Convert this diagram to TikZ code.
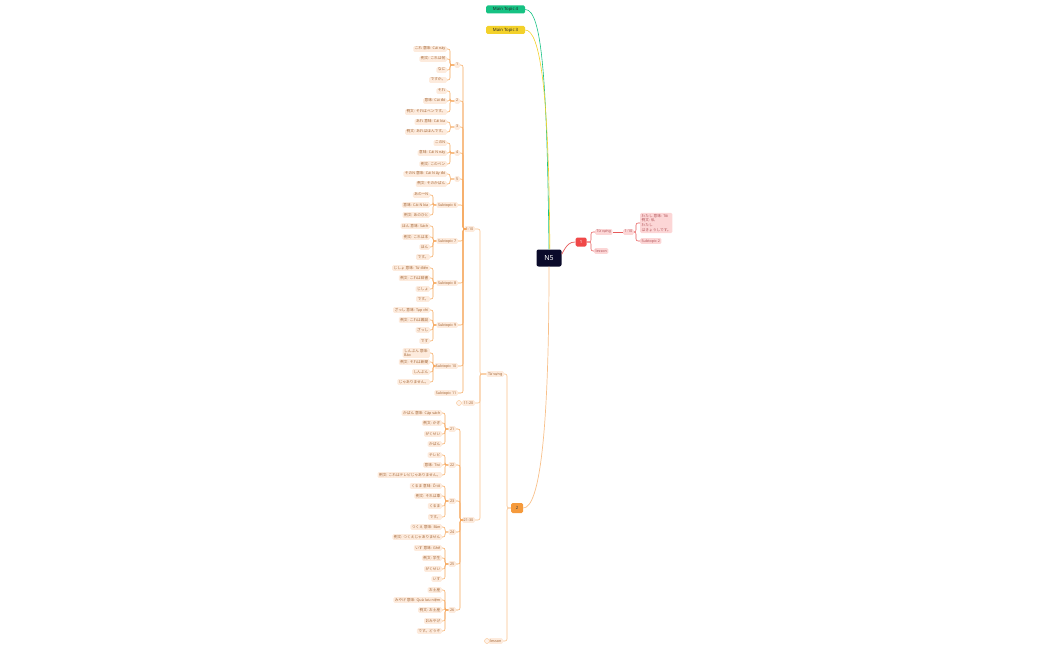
\documentclass[tikz,border=0pt]{standalone}
\usepackage{fontspec}
\setmainfont{Noto Sans}
\newfontfamily\jp{Noto Sans CJK JP}
\newcommand\J[1]{{\jp #1}}
\definecolor{peach}{HTML}{FDEBDD}
\definecolor{ptext}{HTML}{A5693A}
\definecolor{oline}{HTML}{F5A65B}
\definecolor{otrunk}{HTML}{F8C08A}
\definecolor{rnode}{HTML}{F04848}
\definecolor{rline}{HTML}{E65A5A}
\definecolor{pink}{HTML}{FCD6D6}
\definecolor{pinktext}{HTML}{B2555A}
\definecolor{navy}{HTML}{0A0A2A}
\definecolor{mgreen}{HTML}{16C283}
\definecolor{myellow}{HTML}{F3D12A}
\definecolor{onode}{HTML}{F59A3C}
\tikzset{
  x=1pt, y=-1pt,
  leaf/.style={fill=peach, text=ptext, rounded corners=1.3pt, inner xsep=1.5pt, inner ysep=1.1pt,
    font=\fontsize{3.7}{4.4}\selectfont, text height=2.8pt, text depth=0.8pt, anchor=east},
  grpnode/.style={leaf},
  pleaf/.style={fill=pink, text=pinktext, rounded corners=1.3pt, inner xsep=1.5pt, inner ysep=1.1pt,
    font=\fontsize{3.7}{4.4}\selectfont, text height=2.8pt, text depth=0.8pt, anchor=west},
  br/.style={draw=oline, line width=0.55pt, rounded corners=2pt},
  trunk/.style={draw=otrunk, line width=0.6pt, rounded corners=2pt},
  rbr/.style={draw=rline, line width=0.55pt, rounded corners=2pt},
  mtopic/.style={rounded corners=1.5pt, minimum width=39pt, minimum height=8pt, inner sep=0pt,
    font=\fontsize{4.3}{5}\selectfont, text=black!85},
  collapsed/.style={circle, draw=otrunk, fill=peach!60, line width=0.4pt, minimum size=5pt, inner sep=0pt},
}
\begin{document}
\begin{tikzpicture}
\useasboundingbox (0,0) rectangle (1050,650);

% bracket x-coordinates
\coordinate (bA) at (450,0);
\coordinate (bS) at (433,0);
\coordinate (bT) at (445,0);
\coordinate (b110) at (463,0);
\coordinate (b2130) at (460,0);
\coordinate (bTV) at (480,0);
\coordinate (b2) at (507,0);
\coordinate (bR1) at (591,0);
\coordinate (bR2) at (636,0);

% central
\node[fill=navy, text=white, rounded corners=2pt, minimum width=25pt, minimum height=17pt, inner sep=0pt,
  font=\fontsize{7}{8}\selectfont\bfseries] (n5) at (549,258) {N5};

% main topics
\node[mtopic, fill=mgreen] (mt4) at (505.5,9.5) {Main Topic 4};
\node[mtopic, fill=myellow] (mt3) at (505.5,30) {Main Topic 3};

% red branch
\node[fill=rnode, text=white, rounded corners=1.5pt, minimum width=11pt, minimum height=9pt, inner sep=0pt,
  font=\fontsize{4.3}{5}\selectfont\bfseries] (r1) at (581,242) {1};
\node[pleaf] (rv) at (595,232) {Từ vựng};
\node[pleaf] (rl) at (594,251) {lesson};
\node[pleaf] (r110) at (623,232) {1-10};
\node[pleaf, align=left, font=\fontsize{3.7}{4.9}\selectfont, text height=, text depth=] (rm) at (640,223)
  {\J{わたし 意味:} Tôi\\\J{例文: 私}\\\J{わたし}\\\J{はきょうしです。}};
\node[pleaf] (rs) at (640,241) {Subtopic 2};

% orange branch
\node[fill=onode, text=black!75, rounded corners=1.5pt, minimum width=12pt, minimum height=10pt, inner sep=0pt,
  font=\fontsize{4.3}{5}\selectfont\bfseries] (o2) at (517,508) {2};
\node[leaf] (tv) at (504,374) {Từ vựng};
\node[leaf] (ls) at (503,641) {lesson};
\node[collapsed] (cls) at (487,641) {};

\node[leaf] (t1) at (475,229) {1-10};
\node[leaf] (t2) at (475,403) {11-20};
\node[collapsed] (c1120) at (459,403) {};
\node[leaf] (t3) at (475,520) {21-30};

% group 1
\node[leaf] (a1) at (447,49) {\J{これ 意味:} Cái này};
\node[leaf] (a2) at (447,59) {\J{例文: これは何}};
\node[leaf] (a3) at (447,70) {\J{なに}};
\node[leaf] (a4) at (447,80) {\J{ですか。}};
\node[grpnode] (g1) at (460,65) {1};
% group 2
\node[leaf] (b1) at (447,91) {\J{それ}};
\node[leaf] (b2n) at (447,101) {\J{意味:} Cái đó};
\node[leaf] (b3) at (447,112) {\J{例文: それはペンです。}};
\node[grpnode] (g2) at (460,101) {2};
% group 3
\node[leaf] (c1) at (447,122) {\J{あれ 意味:} Cái kia};
\node[leaf] (c2) at (447,132) {\J{例文: あれはほんです。}};
\node[grpnode] (g3) at (460,127) {3};
% group 4
\node[leaf] (d1) at (447,143) {\J{この}N};
\node[leaf] (d2) at (447,153) {\J{意味:} Cái N này};
\node[leaf] (d3) at (447,164) {\J{例文: このペン}};
\node[grpnode] (g4) at (460,153) {4};
% group 5
\node[leaf] (e1) at (447,174) {\J{その}N \J{意味:} Cái N ấy đó};
\node[leaf] (e2) at (447,184) {\J{例文: そのかばん}};
\node[grpnode] (g5) at (460,179) {5};
% subtopic 6
\node[leaf] (f1) at (430,195) {\J{あのー}N};
\node[leaf] (f2) at (430,205) {\J{意味:} Cái N kia};
\node[leaf] (f3) at (430,215) {\J{例文: あのひと}};
\node[grpnode] (g6) at (458,205) {Subtopic 6};
% subtopic 7
\node[leaf] (h1) at (430,226) {\J{ほん 意味:} Sách};
\node[leaf] (h2) at (430,237) {\J{例文: これは本}};
\node[leaf] (h3) at (430,247) {\J{ほん}};
\node[leaf] (h4) at (430,257) {\J{です。}};
\node[grpnode] (g7) at (458,241) {Subtopic 7};
% subtopic 8
\node[leaf] (i1) at (430,268) {\J{じしょ 意味:} Từ điển};
\node[leaf] (i2) at (430,278) {\J{例文: これは辞書}};
\node[leaf] (i3) at (430,289) {\J{じしょ}};
\node[leaf] (i4) at (430,299) {\J{です。}};
\node[grpnode] (g8) at (458,283) {Subtopic 8};
% subtopic 9
\node[leaf] (j1) at (430,310) {\J{ざっし 意味:} Tạp chí};
\node[leaf] (j2) at (430,320) {\J{例文: これは雑誌}};
\node[leaf] (j3) at (430,330) {\J{ざっし}};
\node[leaf] (j4) at (430,341) {\J{です}};
\node[grpnode] (g9) at (458,325) {Subtopic 9};
% subtopic 10
\node[leaf, align=left, text height=, text depth=, font=\fontsize{3.7}{4.5}\selectfont] (k1) at (430,353) {\J{しんぶん 意味:}\\Báo};
\node[leaf] (k2) at (430,362) {\J{例文: それは新聞}};
\node[leaf] (k3) at (430,372) {\J{しんぶん}};
\node[leaf] (k4) at (430,382) {\J{じゃありません。}};
\node[grpnode] (g10) at (458,366) {Subtopic 10};
% subtopic 11
\node[grpnode] (g11) at (458,393) {Subtopic 11};

% group 21
\node[leaf] (m1) at (442,413) {\J{かばん 意味:} Cặp sách};
\node[leaf] (m2) at (442,423) {\J{例文: かぎ}};
\node[leaf] (m3) at (442,434) {\J{がくせい}};
\node[leaf] (m4) at (442,444) {\J{かばん}};
\node[grpnode] (g21) at (456,429) {21};
% group 22
\node[leaf] (n1) at (442,455) {\J{テレビ}};
\node[leaf] (n2) at (442,465) {\J{意味:} Tivi};
\node[leaf] (n3) at (442,475) {\J{例文: これはテレビじゃありません。}};
\node[grpnode] (g22) at (456,465) {22};
% group 23
\node[leaf] (o1) at (442,486) {\J{くるま 意味:} Ô tô};
\node[leaf] (o2n) at (442,496) {\J{例文: それは車}};
\node[leaf] (o3) at (442,506) {\J{くるま}};
\node[leaf] (o4) at (442,517) {\J{です。}};
\node[grpnode] (g23) at (456,501) {23};
% group 24
\node[leaf] (p1) at (442,527) {\J{つくえ 意味:} Bàn};
\node[leaf] (p2) at (442,537) {\J{例文: つくえじゃありません}};
\node[grpnode] (g24) at (456,532) {24};
% group 25
\node[leaf] (q1) at (442,548) {\J{いす 意味:} Ghế};
\node[leaf] (q2) at (442,558) {\J{例文: 学生}};
\node[leaf] (q3) at (442,569) {\J{がくせい}};
\node[leaf] (q4) at (442,579) {\J{いす}};
\node[grpnode] (g25) at (456,564) {25};
% group 26
\node[leaf] (s1) at (442,590) {\J{お土産}};
\node[leaf] (s2) at (442,600) {\J{みやげ 意味:} Quà lưu niệm};
\node[leaf] (s3) at (442,610) {\J{例文: お土産}};
\node[leaf] (s4) at (442,621) {\J{おみやげ}};
\node[leaf] (s5) at (442,631) {\J{です。どうぞ}};
\node[grpnode] (g26) at (456,610) {26};

% ---------- connectors ----------
% main topics
\draw[mgreen, line width=0.6pt] (mt4.east) .. controls (542,9.5) and (547,80) .. (n5.north);
\draw[myellow, line width=0.6pt] (mt3.east) .. controls (540,30) and (549,90) .. ([xshift=0.8pt]n5.north);
% red
\draw[rline, line width=0.7pt] ([yshift=-5pt]n5.north east) .. controls (567,244) and (570,242) .. (r1.west);
\foreach \c in {rv,rl} \draw[rbr] (r1.east) -- (r1.east -| bR1) |- (\c.west);
\draw[rbr] (rv.east) -- (r110.west);
\foreach \c in {rm,rs} \draw[rbr] (r110.east) -- (r110.east -| bR2) |- (\c.west);
% orange main
\draw[otrunk, line width=0.7pt] (n5.south) .. controls (549,430) and (540,508) .. (o2.east);
\foreach \c in {tv,ls} \draw[trunk] (o2.west) -- (o2.west -| b2) |- (\c.east);
\foreach \c in {t1,t2,t3} \draw[trunk] (tv.west) -- (tv.west -| bTV) |- (\c.east);
\foreach \c in {g1,g2,g3,g4,g5,g6,g7,g8,g9,g10,g11} \draw[br] (t1.west) -- (t1.west -| b110) |- (\c.east);
\foreach \c in {g21,g22,g23,g24,g25,g26} \draw[br] (t3.west) -- (t3.west -| b2130) |- (\c.east);
% leaf brackets
\foreach \c in {a1,a2,a3,a4} \draw[br] (g1.west) -- (g1.west -| bA) |- (\c.east);
\foreach \c in {b1,b2n,b3} \draw[br] (g2.west) -- (g2.west -| bA) |- (\c.east);
\foreach \c in {c1,c2} \draw[br] (g3.west) -- (g3.west -| bA) |- (\c.east);
\foreach \c in {d1,d2,d3} \draw[br] (g4.west) -- (g4.west -| bA) |- (\c.east);
\foreach \c in {e1,e2} \draw[br] (g5.west) -- (g5.west -| bA) |- (\c.east);
\foreach \c in {f1,f2,f3} \draw[br] (g6.west) -- (g6.west -| bS) |- (\c.east);
\foreach \c in {h1,h2,h3,h4} \draw[br] (g7.west) -- (g7.west -| bS) |- (\c.east);
\foreach \c in {i1,i2,i3,i4} \draw[br] (g8.west) -- (g8.west -| bS) |- (\c.east);
\foreach \c in {j1,j2,j3,j4} \draw[br] (g9.west) -- (g9.west -| bS) |- (\c.east);
\foreach \c in {k1,k2,k3,k4} \draw[br] (g10.west) -- (g10.west -| bS) |- (\c.east);
\foreach \c in {m1,m2,m3,m4} \draw[br] (g21.west) -- (g21.west -| bT) |- (\c.east);
\foreach \c in {n1,n2,n3} \draw[br] (g22.west) -- (g22.west -| bT) |- (\c.east);
\foreach \c in {o1,o2n,o3,o4} \draw[br] (g23.west) -- (g23.west -| bT) |- (\c.east);
\foreach \c in {p1,p2} \draw[br] (g24.west) -- (g24.west -| bT) |- (\c.east);
\foreach \c in {q1,q2,q3,q4} \draw[br] (g25.west) -- (g25.west -| bT) |- (\c.east);
\foreach \c in {s1,s2,s3,s4,s5} \draw[br] (g26.west) -- (g26.west -| bT) |- (\c.east);
\end{tikzpicture}
\end{document}
